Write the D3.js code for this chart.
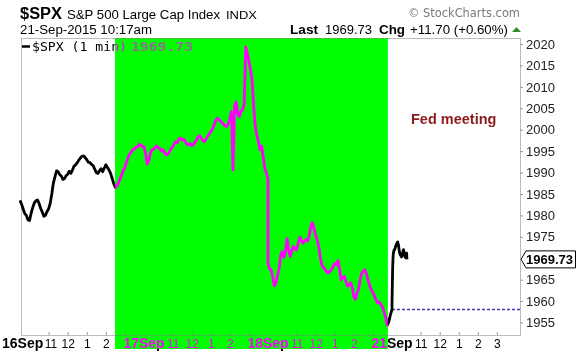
<!DOCTYPE html>
<html>
<head>
<meta charset="utf-8">
<script src="https://cdn.jsdelivr.net/npm/d3@7"></script>
<style>
  body { margin: 0; background: #fff; }
  #graph-wrapper { width: 576px; height: 356px; overflow: hidden; }
</style>
</head>
<body>
<div id="graph-wrapper"></div>
<script>
// Sessions shown and the hour marks inside each one
const dayLabels = ['16Sep', '17Sep', '18Sep', '21Sep'];
const hourLabels = ['11', '12', '1', '2', '3'];
const hourMinutes = [90, 150, 210, 270, 330]; // minutes after the 9:30 open
const yTicks = [1955, 1960, 1965, 1975, 1980, 1985, 1990, 1995, 2000, 2005, 2010, 2015, 2020];

// $SPX, every 5 minutes (9:30 .. 16:00)
const sep16 = [1983.5, 1982.6, 1981.5, 1980.4, 1980.0, 1979.0, 1978.8, 1980.5, 1981.8, 1982.9,
  1983.4, 1983.6, 1982.8, 1981.6, 1980.8, 1979.8, 1980.0, 1980.9, 1981.5, 1982.8,
  1985.0, 1987.6, 1989.0, 1990.4, 1990.2, 1989.5, 1989.2, 1988.4, 1988.6, 1989.3,
  1989.6, 1990.3, 1989.8, 1990.6, 1991.5, 1991.8, 1992.3, 1992.9, 1993.4, 1993.8,
  1993.9, 1993.5, 1993.0, 1992.4, 1992.3, 1991.9, 1991.6, 1990.8, 1990.0, 1989.8,
  1990.4, 1990.9, 1990.2, 1991.0, 1991.8, 1991.2, 1990.6, 1989.8, 1988.6, 1987.4,
  1986.5, 1986.9, 1987.6, 1988.6, 1989.5, 1990.6, 1991.2, 1992.4, 1993.5, 1994.3,
  1994.8, 1995.4, 1995.5, 1995.9, 1996.0, 1996.6, 1996.4, 1996.1, 1996.0];
const sep17 = [1996.0, 1994.5, 1992.0, 1992.8, 1994.6, 1995.3, 1995.4, 1995.9, 1996.2, 1995.8,
  1995.6, 1995.0, 1995.3, 1994.6, 1994.1, 1994.3, 1994.8, 1995.6, 1996.0, 1996.7,
  1997.2, 1997.0, 1997.9, 1998.0, 1997.6, 1997.8, 1997.2, 1996.6, 1996.4, 1996.8,
  1996.3, 1996.5, 1997.0, 1997.6, 1998.3, 1998.6, 1998.0, 1997.5, 1997.2, 1997.8,
  1998.4, 1999.0, 1999.6, 2000.1, 2001.0, 2002.1, 2002.7, 2002.4, 2002.0, 2001.7,
  2001.3, 2000.9, 2000.7, 2001.4, 2002.6, 2004.2, 1990.6, 2005.5, 2006.5, 2003.6,
  2003.0, 2004.4, 2004.6, 2006.0, 2019.3, 2017.8, 2016.0, 2014.0, 2011.5, 2005.5,
  2000.8, 1998.6, 1997.2, 1995.3, 1996.2, 1993.6, 1991.0, 1989.9, 1988.3];
const sep18 = [1968.8, 1967.5, 1967.3, 1965.5, 1963.6, 1964.2, 1966.0, 1967.6, 1970.8, 1971.6,
  1970.2, 1971.5, 1974.6, 1972.0, 1970.4, 1971.8, 1972.8, 1972.2, 1971.9, 1973.6,
  1974.9, 1974.2, 1973.5, 1974.0, 1974.4, 1974.0, 1975.4, 1977.5, 1978.3, 1976.8,
  1975.4, 1974.2, 1972.6, 1970.0, 1968.2, 1967.8, 1967.3, 1966.8, 1966.5, 1967.0,
  1967.3, 1968.2, 1968.8, 1968.4, 1969.5, 1967.5, 1965.0, 1965.4, 1965.8, 1964.6,
  1963.5, 1963.8, 1964.3, 1963.2, 1961.0, 1960.4, 1961.9, 1962.8, 1965.0, 1966.6,
  1967.0, 1967.3, 1966.2, 1964.9, 1963.5, 1962.6, 1962.0, 1961.1, 1960.2, 1959.6,
  1959.8, 1959.2, 1958.6, 1957.5, 1956.2, 1954.4, 1955.2, 1956.8, 1958.0];
// 21Sep is only running up to 10:17
const sep21Minutes = [0, 1, 2, 3, 4, 6, 8, 10, 12, 14, 16, 18, 20, 22, 24, 26, 28, 30, 32, 34, 36, 38, 40, 42, 44, 46, 47];
const sep21 = [1959.0, 1963.5, 1967.5, 1969.8, 1971.0, 1971.8, 1972.0, 1972.4, 1972.9, 1973.3,
  1973.6, 1973.8, 1973.2, 1972.2, 1971.2, 1970.8, 1970.6, 1970.3, 1970.8, 1971.5,
  1972.0, 1971.4, 1970.5, 1970.2, 1970.8, 1971.2, 1969.73];

const lastPrice = 1969.73;
const prevClose = 1958.03;
const change = 11.70;
const changePct = 0.60;
// green "Fed meeting" highlight, in trading minutes from the 16Sep open
const fedMinutes = [299, 1157];

function drawChart() {
  const width = 576;
  const height = 356;
  const plotLeft = 21;
  const plotRight = 520;
  const plotTop = 38;
  const plotBottom = 335;
  const sans = 'Liberation Sans, Arial, sans-serif';

  const svg = d3.select('#graph-wrapper').append('svg')
      .attr('width', width)
      .attr('height', height);
  svg.append('rect').attr('width', width).attr('height', height).attr('fill', '#fff');

  // x is trading minutes since the 16Sep open, 390 per session
  const x = d3.scaleLinear().domain([0, 4 * 390]).range([20, 516]);
  const y = d3.scaleLinear().domain([1955, 2020]).range([322.5, 44]);

  const points = [];
  [sep16, sep17, sep18].forEach((day, d) => day.forEach((v, j) => points.push([d * 390 + j * 5, v])));
  sep21.forEach((v, i) => points.push([3 * 390 + sep21Minutes[i], v]));

  // frame
  svg.append('rect')
      .attr('x', plotLeft + 0.5).attr('y', plotTop + 0.5)
      .attr('width', plotRight - plotLeft).attr('height', plotBottom - plotTop)
      .attr('fill', 'none').attr('stroke', '#bcbcbc');

  // y axis on the right
  const yAxis = d3.axisRight(y).tickValues(yTicks).tickSize(3).tickPadding(3).tickFormat(d3.format('d'));
  const gy = svg.append('g').attr('transform', `translate(${plotRight},0)`).call(yAxis);
  gy.select('.domain').remove();
  gy.selectAll('line').attr('stroke', '#999');
  gy.attr('font-family', sans).attr('font-size', 13);
  gy.selectAll('text').attr('fill', '#222');

  // x axis: hour ticks, date labels at the session starts
  const hourTicks = [];
  dayLabels.forEach((_, d) => hourMinutes.forEach(m => hourTicks.push(d * 390 + m)));
  const xAxis = d3.axisBottom(x).tickValues(hourTicks)
      .tickSizeInner(-3).tickSizeOuter(0).tickPadding(4.5)
      .tickFormat(t => hourLabels[hourMinutes.indexOf(t % 390)]);
  const gx = svg.append('g').attr('transform', `translate(0,${plotBottom})`).call(xAxis);
  gx.select('.domain').remove();
  gx.selectAll('line').attr('stroke', '#999');
  gx.attr('font-family', sans).attr('font-size', 12);
  gx.selectAll('text').attr('fill', '#000');

  const dates = svg.append('g').selectAll('text').data(dayLabels).join('text')
      .text(d => d)
      .attr('x', (d, i) => x(i * 390))
      .attr('y', 348)
      .attr('text-anchor', 'middle')
      .attr('font-family', sans).attr('font-weight', 'bold').attr('font-size', 14);
  dates.each(function() {
    const b = this.getBBox();
    if (b.x < 2) d3.select(this).attr('x', +d3.select(this).attr('x') + 2 - b.x);
  });
  // drop hour labels that run into a date, nudge the 11 along instead
  const dateBoxes = dates.nodes().map(n => n.getBBox());
  gx.selectAll('.tick').each(function(t) {
    const text = d3.select(this).select('text');
    const b = text.node().getBBox();
    const left = x(t) + b.x;
    const right = left + b.width;
    dateBoxes.forEach(db => {
      if (left < db.x + db.width && right > db.x) {
        if (text.text() === hourLabels[0]) text.attr('x', db.x + db.width + 1 - left);
        else text.remove();
      }
    });
  });

  // previous close
  svg.append('line')
      .attr('x1', x(3 * 390)).attr('x2', plotRight)
      .attr('y1', y(prevClose)).attr('y2', y(prevClose))
      .attr('stroke', '#3b3bb0').attr('stroke-width', 1.3).attr('stroke-dasharray', '3,2');

  // price line
  const line = d3.line().x(d => x(d[0])).y(d => y(d[1]));
  svg.append('path').datum(points)
      .attr('d', line)
      .attr('fill', 'none').attr('stroke', '#000')
      .attr('stroke-width', 2.8).attr('stroke-linejoin', 'round');

  // legend
  svg.append('line').attr('x1', 22).attr('x2', 30).attr('y1', 46.5).attr('y2', 46.5)
      .attr('stroke', '#000').attr('stroke-width', 2.5);
  svg.append('text').text('$SPX (1 min)').attr('x', 32).attr('y', 50.5)
      .attr('font-family', 'DejaVu Sans Mono, monospace').attr('font-size', 11.5)
      .attr('textLength', 95).attr('lengthAdjust', 'spacingAndGlyphs');
  svg.append('text').text(d3.format('.2f')(lastPrice)).attr('x', 131).attr('y', 50.5)
      .attr('font-family', 'DejaVu Sans Mono, monospace').attr('font-size', 11.5).attr('font-weight', 'bold')
      .attr('fill', '#707070')
      .attr('textLength', 62).attr('lengthAdjust', 'spacingAndGlyphs');

  // last price tag
  const ty = y(lastPrice);
  svg.append('path')
      .attr('d', `M${plotRight + 1},${ty} L${plotRight + 6},${ty - 8.5} H575.5 V${ty + 8.5} H${plotRight + 6} Z`)
      .attr('fill', '#fff').attr('stroke', '#000');
  svg.append('text').text(d3.format('.2f')(lastPrice)).attr('x', plotRight + 6).attr('y', ty + 4.5)
      .attr('font-family', sans).attr('font-weight', 'bold').attr('font-size', 13)
      .attr('textLength', 47).attr('lengthAdjust', 'spacingAndGlyphs');

  // header
  const header = [
    {t: '$SPX', x: 20, y: 19, size: 16, bold: true, w: 42},
    {t: 'S&P 500 Large Cap Index', x: 67, y: 19, size: 13, w: 153},
    {t: 'INDX', x: 226, y: 19, size: 11.5, w: 31},
    {t: '21-Sep-2015 10:17am', x: 20, y: 34, size: 12.5, w: 132},
    {t: '\u00a9 StockCharts.com', x: 408, y: 17, size: 12, w: 112, fill: '#7a7a7a', font: 'DejaVu Sans, sans-serif'},
    {t: 'Last', x: 290, y: 33.5, size: 13.5, bold: true, w: 28},
    {t: d3.format('.2f')(lastPrice), x: 325, y: 33.5, size: 12, w: 47},
    {t: 'Chg', x: 379, y: 33.5, size: 13.5, bold: true, w: 26},
    {t: `${d3.format('+.2f')(change)} (${d3.format('+.2f')(changePct)}%)`, x: 410, y: 33.5, size: 12, w: 98}
  ];
  svg.append('g').selectAll('text').data(header).join('text')
      .text(d => d.t)
      .attr('x', d => d.x).attr('y', d => d.y)
      .attr('font-family', d => d.font || sans)
      .attr('font-size', d => d.size)
      .attr('font-weight', d => d.bold ? 'bold' : 'normal')
      .attr('fill', d => d.fill || '#000')
      .attr('textLength', d => d.w).attr('lengthAdjust', 'spacingAndGlyphs');
  svg.append('path').attr('d', 'M512,32 L516.5,27 L521,32 Z').attr('fill', '#2f8f2f');

  svg.append('text').text('Fed meeting').attr('x', 411).attr('y', 124)
      .attr('font-family', sans).attr('font-weight', 'bold').attr('font-size', 14.5)
      .attr('fill', '#8b1a1a');

  // the green highlight is a difference layer: white turns green, black turns magenta
  svg.append('rect')
      .attr('x', x(fedMinutes[0])).attr('y', plotTop)
      .attr('width', x(fedMinutes[1]) - x(fedMinutes[0]))
      .attr('height', 349 - plotTop)
      .attr('fill', '#ff00ff')
      .style('mix-blend-mode', 'difference');
}

if (document.readyState !== 'loading') {
  drawChart();
} else { document.addEventListener('DOMContentLoaded', () => drawChart()); }
</script>
</body>
</html>
